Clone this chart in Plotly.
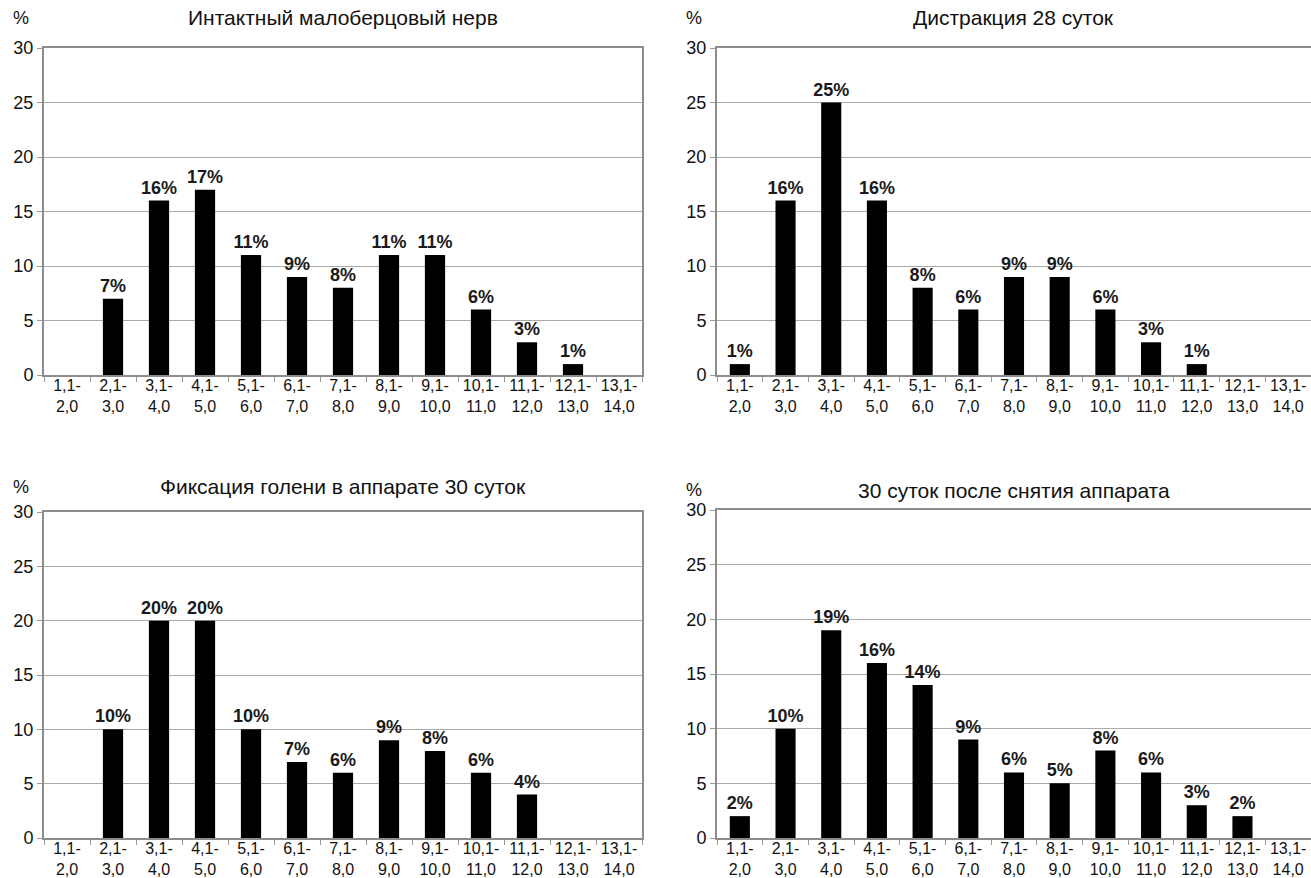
import plotly.graph_objects as go

categories = ["1,1-<br>2,0", "2,1-<br>3,0", "3,1-<br>4,0", "4,1-<br>5,0", "5,1-<br>6,0",
              "6,1-<br>7,0", "7,1-<br>8,0", "8,1-<br>9,0", "9,1-<br>10,0", "10,1-<br>11,0",
              "11,1-<br>12,0", "12,1-<br>13,0", "13,1-<br>14,0"]

titles = ["Интактный малоберцовый нерв", "Дистракция 28 суток",
          "Фиксация голени в аппарате 30 суток", "30 суток после снятия аппарата"]

intact = [0, 7, 16, 17, 11, 9, 8, 11, 11, 6, 3, 1, 0]
distraction = [1, 16, 25, 16, 8, 6, 9, 9, 6, 3, 1, 0, 0]
fixation = [0, 10, 20, 20, 10, 7, 6, 9, 8, 6, 4, 0, 0]
after_removal = [2, 10, 19, 16, 14, 9, 6, 5, 8, 6, 3, 2, 0]

y_ticks = [0, 5, 10, 15, 20, 25, 30]

W, H = 1311, 878
FONT = "Liberation Sans Narrow, Liberation Sans, Arial, sans-serif"

# pixel boxes in window coords: left, right, top, bottom, title offset above top
boxes = [(44, 642, 48, 375, 30), (717, 1315, 48, 375, 30),
         (44, 642, 512, 838, 25), (717, 1315, 510, 838, 20)]
series = [intact, distraction, fixation, after_removal]

fig = go.Figure()
for i, (vals, box, title) in enumerate(zip(series, boxes, titles)):
    l, r, t, b, off = box
    xd = [l / W, min(r / W, 1.0)]
    yd = [1 - b / H, 1 - t / H]
    sx = "" if i == 0 else str(i + 1)
    fig.add_trace(go.Bar(
        x=categories, y=vals,
        text=[f"<b>{v}%</b>" if v else "" for v in vals],
        textposition="outside", cliponaxis=False, constraintext="none",
        textfont=dict(family="Liberation Sans, Arial, sans-serif", size=18, color="#1a1a1a"),
        marker=dict(color="#000000", line=dict(width=0)),
        xaxis="x" + sx, yaxis="y" + sx, showlegend=False,
    ))
    fig.layout["xaxis" + sx] = dict(
        domain=xd, anchor="y" + sx, type="category", tickson="boundaries",
        ticks="outside", ticklen=5, tickcolor="#999", showgrid=False,
        showline=True, linecolor="#8c8c8c", linewidth=2, mirror=True,
        tickfont=dict(family=FONT, size=16, color="#111"), tickangle=0,
        ticklabelstandoff=-5, automargin=False,
    )
    fig.layout["yaxis" + sx] = dict(
        domain=yd, anchor="x" + sx, range=[0, 30], tickvals=y_ticks,
        ticks="outside", ticklen=5, tickcolor="#999",
        showgrid=True, gridcolor="#aaaaaa", gridwidth=1,
        showline=True, linecolor="#8c8c8c", linewidth=2, mirror=True,
        zeroline=False, automargin=False,
        tickfont=dict(family=FONT, size=18, color="#111"),
    )
    fig.add_annotation(text=title, x=(xd[0] + xd[1]) / 2, y=yd[1] + off / H,
                       xref="paper", yref="paper", showarrow=False,
                       xanchor="center", yanchor="middle",
                       font=dict(family=FONT, size=21, color="#111"))
    fig.add_annotation(text="%", x=xd[0] - 23 / W, y=yd[1] + off / H,
                       xref="paper", yref="paper", showarrow=False,
                       xanchor="center", yanchor="middle",
                       font=dict(family=FONT, size=18, color="#111"))

fig.update_layout(width=W, height=H, margin=dict(l=0, r=0, t=0, b=0),
                  paper_bgcolor="white", plot_bgcolor="white", bargap=0.56,
                  hovermode=False)
fig.write_html("out.html",
               config={"displayModeBar": False, "staticPlot": True},
               post_script="document.body.style.margin='0';"
                           "document.documentElement.style.overflow='hidden';")
